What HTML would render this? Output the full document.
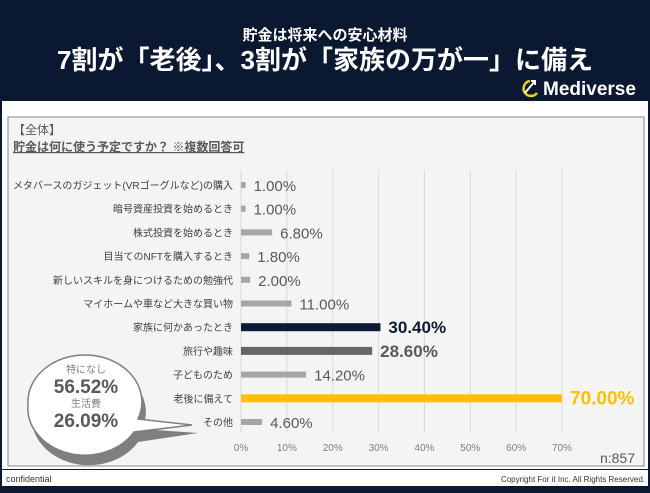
<!DOCTYPE html>
<html><head><meta charset="utf-8"><style>
body{margin:0;width:650px;height:488px;overflow:hidden;background:#0b1832;font-family:"Liberation Sans","Noto Sans CJK JP",sans-serif}
</style></head><body>
<svg width="650" height="488" xmlns="http://www.w3.org/2000/svg">
<rect x="0" y="0" width="650" height="488" fill="#0b1832"/>
<text x="325" y="40" text-anchor="middle" fill="#fff" font-size="15" font-weight="bold">貯金は将来への安心材料</text>
<text x="325" y="69" text-anchor="middle" fill="#fff" font-size="26" font-weight="bold">7割が「老後」、3割が「家族の万が一」に備え</text>
<g>
<path d="M530 81 A7.5 7.5 0 1 0 537 93" fill="none" stroke="#e8d21c" stroke-width="2.5"/>
<path d="M525 93 L535 81 M531 81 L535 81 L535 85" fill="none" stroke="#fff" stroke-width="2"/>
<text x="543" y="95" fill="#fff" font-size="19" font-weight="bold">Mediverse</text>
</g>
<rect x="2" y="101" width="646" height="368" fill="#fff"/>
<rect x="8" y="117" width="636" height="349" fill="#f4f4f4" stroke="#7f8a99" stroke-width="1"/>
<text x="13" y="134" fill="#595959" font-size="12">【全体】</text>
<text x="13" y="151" fill="#595959" font-size="12" font-weight="bold" text-decoration="underline">貯金は何に使う予定ですか？ ※複数回答可</text>
<g id="grid"></g><g id="bars"></g>
<g>
<path d="M32 415 a57 47 0 1 1 110 14 L198 433 L138 442 A57 47 0 0 1 32 415 Z" fill="#7f7f7f"/>
<path d="M28 405 a57 47 0 1 1 110 14 L192 425 L134 432 A57 47 0 0 1 28 405 Z" fill="#fff" stroke="#7f7f7f" stroke-width="1.5"/>
<text x="86" y="373" text-anchor="middle" fill="#7f7f7f" font-size="10">特になし</text>
<text x="86" y="393" text-anchor="middle" fill="#595959" font-size="19" font-weight="bold">56.52%</text>
<text x="86" y="407" text-anchor="middle" fill="#7f7f7f" font-size="10">生活費</text>
<text x="86" y="427" text-anchor="middle" fill="#595959" font-size="19" font-weight="bold">26.09%</text>
</g>
<text x="635" y="463" text-anchor="end" fill="#595959" font-size="14">n:857</text>
<rect x="2" y="470" width="646" height="16" fill="#fff"/>
<text x="6" y="482" fill="#333" font-size="9">confidential</text>
<text x="645" y="482" text-anchor="end" fill="#333" font-size="8">Copyright For it Inc. All Rights Reserved.</text>
</svg>
<script>
const categories=["メタバースのガジェット(VRゴーグルなど)の購入","暗号資産投資を始めるとき","株式投資を始めるとき","目当てのNFTを購入するとき","新しいスキルを身につけるための勉強代","マイホームや車など大きな買い物","家族に何かあったとき","旅行や趣味","子どものため","老後に備えて","その他"];
const values=[1.0,1.0,6.8,1.8,2.0,11.0,30.4,28.6,14.2,70.0,4.6];
const ticks=[0,10,20,30,40,50,60,70];
const NS="http://www.w3.org/2000/svg";
const x=v=>241+v*4.586;
const y=i=>185+i*23.7;
function mk(t,a,p){const e=document.createElementNS(NS,t);for(const k in a)e.setAttribute(k,a[k]);p.appendChild(e);return e;}
const g=document.getElementById('grid'),b=document.getElementById('bars');
ticks.forEach(t=>{
 const l=mk('line',{x1:x(t),x2:x(t),y1:170,y2:432,stroke:'#d9d9d9','stroke-width':1},g);
 
 
 const tx=mk('text',{x:x(t),y:451,'text-anchor':'middle',fill:'#7f7f7f','font-size':10},g);
 tx.textContent=t+'%';
 
 
});
const style={6:{c:'#0c1a33',h:8,tc:'#0c1a33',fs:17,fw:'bold'},7:{c:'#666666',h:8,tc:'#595959',fs:17,fw:'bold'},9:{c:'#ffc000',h:8,tc:'#ffc000',fs:19,fw:'bold'}};
categories.forEach((c,i)=>{
 const s=style[i]||{c:'#a6a6a6',h:6,tc:'#595959',fs:15,fw:'normal'};
 const lb=mk('text',{x:233,y:y(i)+4,'text-anchor':'end',fill:'#404040','font-size':10},b);
 lb.textContent=c;
 
 
 const r=mk('rect',{x:x(0),y:y(i)-s.h/2,width:x(values[i])-x(0),height:s.h,fill:s.c},b);
 
 
 const v=mk('text',{x:x(values[i])+8,y:y(i)+6,fill:s.tc,'font-size':s.fs,'font-weight':s.fw},b);
 v.textContent=values[i].toFixed(2)+'%';
 
 
});
</script>
</body></html>
